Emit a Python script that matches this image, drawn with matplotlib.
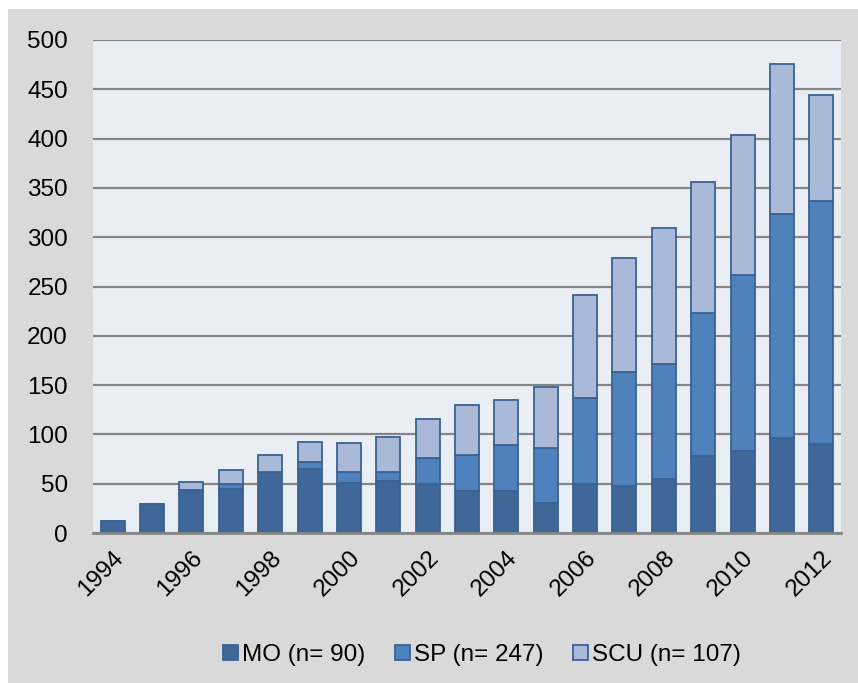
import numpy as np
import matplotlib
matplotlib.use('Agg')
from matplotlib import pyplot as plt
from matplotlib.patches import Rectangle

years = [str(y) for y in range(1994, 2013)]
mo = [12, 29, 44, 45, 62, 65, 51, 53, 50, 43, 43, 30, 50, 48, 55, 78, 83, 96, 90]
sp = [0, 0, 0, 5, 0, 7, 11, 9, 26, 36, 46, 56, 87, 115, 116, 145, 179, 228, 247]
scu = [0, 0, 8, 14, 17, 20, 29, 35, 40, 51, 46, 62, 104, 116, 138, 133, 142, 152, 107]
labels = ['MO (n= 90)', 'SP (n= 247)', 'SCU (n= 107)']
colors = ['#3F6899', '#4F81BD', '#AAB9D7']

plt.rcParams['font.family'] = ['Liberation Sans', 'DejaVu Sans']

fig = plt.figure(figsize=(8.58, 6.83), dpi=100, facecolor='white')
# grey chart area (white strip on top and left like the original)
fig.patches.append(Rectangle((8 / 858, 0), 1, 1 - 9 / 683, transform=fig.transFigure,
                             facecolor='#D9D9D9', edgecolor='none', zorder=-10))

ax = fig.add_axes([93 / 858, 1 - 533 / 683, 748 / 858, 493 / 683])
ax.set_facecolor('#E9EDF4')

x = np.arange(len(years))
mo_a, sp_a, scu_a = np.array(mo), np.array(sp), np.array(scu)
bottoms = [np.zeros(len(x)), mo_a, mo_a + sp_a]
for vals, bot, col, lab in zip([mo_a, sp_a, scu_a], bottoms, colors, labels):
    ax.bar(x, vals, bottom=bot, width=0.61, color=col, edgecolor='#3A6294',
           linewidth=1.3, label=lab, zorder=3)

ax.set_xlim(-0.5, len(x) - 0.5)
ax.set_ylim(0, 500)
ax.set_yticks(np.arange(0, 501, 50))
ax.grid(axis='y', color='#868686', linewidth=1.6, zorder=1)
ax.set_axisbelow(True)

ax.set_xticks(x[::2])
ax.set_xticklabels(years[::2], rotation=45, ha='right', rotation_mode='anchor')
ax.tick_params(axis='both', length=0, labelsize=17.5)
ax.tick_params(axis='y', pad=18)
ax.tick_params(axis='x', pad=10)
for t in ax.get_xticklabels():
    t.set_x(t.get_position()[0])

for s in ['top', 'right', 'left']:
    ax.spines[s].set_visible(False)
ax.spines['bottom'].set_color('#868686')
ax.spines['bottom'].set_linewidth(2)
ax.spines['bottom'].set_zorder(4)

leg = fig.legend(loc='center', bbox_to_anchor=(482 / 858, 1 - 655 / 683), ncol=3,
                 frameon=False, fontsize=17.5, handlelength=0.6, handleheight=0.6,
                 handletextpad=0.15, columnspacing=1.25)

fig.savefig('out.png', dpi=100, facecolor=fig.get_facecolor())
